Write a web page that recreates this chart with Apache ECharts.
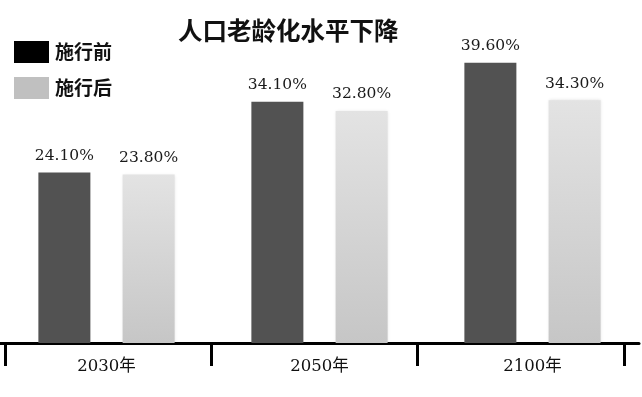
<!DOCTYPE html>
<html>
<head>
<meta charset="utf-8">
<script src="https://cdn.jsdelivr.net/npm/echarts@6/dist/echarts.min.js"></script>
<style>
  html, body { margin: 0; padding: 0; background: #fff; }
  #chart { width: 642px; height: 397px; }
</style>
</head>
<body>
<div id="chart"></div>
<script>
// Population ageing share, before and after the policy
const categories = ['2030年', '2050年', '2100年'];
const seriesNames = ['施行前', '施行后'];
const beforeValues = [24.1, 34.1, 39.6];
const afterValues = [23.8, 32.8, 34.3];

const chart = echarts.init(document.getElementById('chart'));
const serif = '"DejaVu Serif", "Noto Sans CJK SC", serif';

const pctLabel = {
  show: true,
  position: 'top',
  distance: 9,
  fontFamily: serif,
  fontSize: 15.5,
  color: '#1a1a1a',
  formatter: p => p.value.toFixed(2) + '%'
};

chart.setOption({
  backgroundColor: '#ffffff',
  animation: false,
  title: {
    text: '人口老龄化水平下降',
    left: 178,
    top: 18,
    padding: 0,
    textStyle: {
      fontFamily: '"Noto Sans CJK SC", sans-serif',
      fontWeight: 'bold',
      fontSize: 24.5,
      color: '#111'
    }
  },
  legend: {
    orient: 'vertical',
    left: 14,
    top: 41,
    padding: 0,
    itemWidth: 35,
    itemHeight: 22,
    itemGap: 14,
    icon: 'rect',
    textStyle: {
      fontFamily: '"Noto Sans CJK SC", sans-serif',
      fontWeight: 'bold',
      fontSize: 19,
      color: '#111',
      padding: [0, 0, 0, 1]
    },
    data: [
      { name: seriesNames[0], itemStyle: { color: '#000000' } },
      { name: seriesNames[1], itemStyle: { color: '#c0c0c0' } }
    ]
  },
  grid: [
    { left: -3, right: 3, top: 60, bottom: 54 },
    { left: 5, right: 18, top: 60, bottom: 54 }
  ],
  xAxis: [
    {
      type: 'category',
      gridIndex: 0,
      data: categories,
      axisLine: { show: true, lineStyle: { color: '#000', width: 3 } },
      axisTick: { show: false },
      axisLabel: {
        margin: 15,
        fontFamily: serif,
        fontSize: 16.5,
        color: '#111'
      }
    },
    {
      type: 'category',
      gridIndex: 1,
      data: categories,
      axisLine: { show: false },
      axisTick: { show: true, length: 23, lineStyle: { color: '#000', width: 3 } },
      axisLabel: { show: false }
    }
  ],
  yAxis: [
    { type: 'value', gridIndex: 0, min: 0, max: 40, show: false },
    { type: 'value', gridIndex: 1, min: 0, max: 40, show: false }
  ],
  series: [
    {
      name: seriesNames[0],
      type: 'bar',
      xAxisIndex: 0,
      yAxisIndex: 0,
      data: beforeValues,
      barWidth: 52,
      barGap: '62%',
      itemStyle: { color: '#525252' },
      label: pctLabel
    },
    {
      name: seriesNames[1],
      type: 'bar',
      xAxisIndex: 0,
      yAxisIndex: 0,
      data: afterValues,
      barWidth: 52,
      itemStyle: {
        color: new echarts.graphic.LinearGradient(0, 0, 0, 1, [
          { offset: 0, color: '#e3e3e3' },
          { offset: 1, color: '#c6c6c6' }
        ]),
        shadowBlur: 3,
        shadowColor: 'rgba(0,0,0,0.12)'
      },
      label: pctLabel
    }
  ]
});
</script>
</body>
</html>
